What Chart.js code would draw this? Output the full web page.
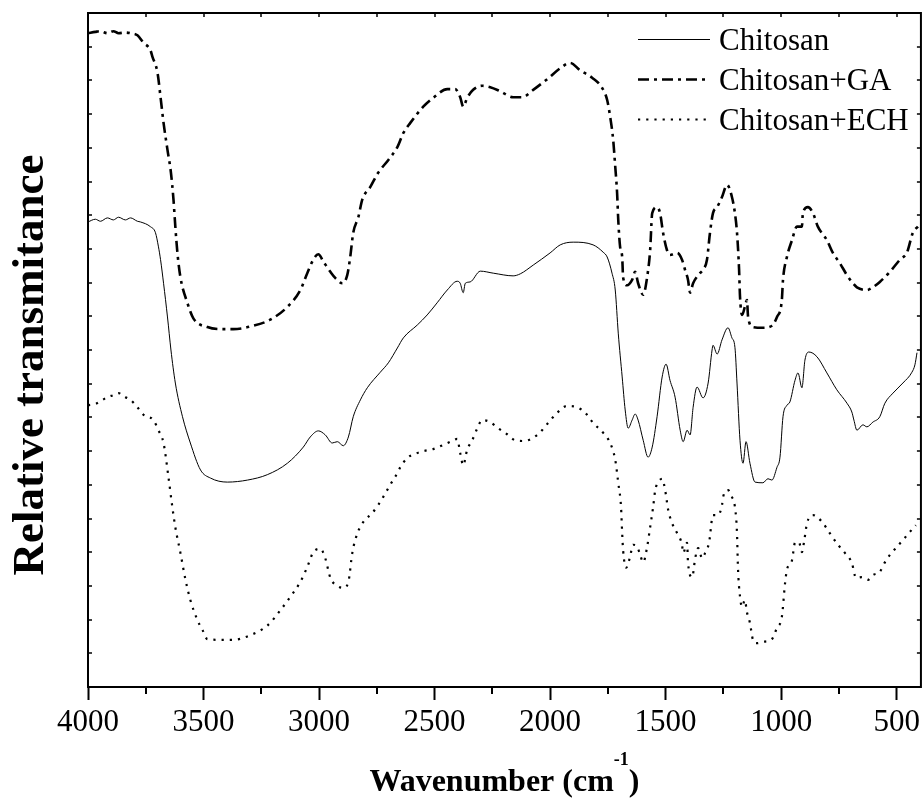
<!DOCTYPE html>
<html>
<head>
<meta charset="utf-8">
<script src="https://cdn.jsdelivr.net/npm/chart.js@4.4.1/dist/chart.umd.min.js"></script>
<style>
  html, body { margin: 0; padding: 0; background: #fff; }
  #wrap { width: 924px; height: 800px; }
</style>
</head>
<body>
<div id="wrap"><canvas id="ftirChart" width="924" height="800"></canvas></div>
<script>
// wavenumber (cm-1) and relative transmittance (arbitrary 0-100)
const chitosanWn = [4000,3968,3946,3916,3890,3868,3838,3816,3786,3773,3730,3708,3695,3686,3673,3656,3641,3622,3591,3557,3513,3470,3397,3310,3224,3137,3068,3038,3003,2973,2943,2921,2895,2873,2852,2821,2791,2735,2700,2661,2635,2575,2532,2489,2445,2402,2389,2376,2367,2346,2302,2246,2160,2129,2073,2000,1956,1900,1814,1770,1753,1732,1718,1705,1688,1675,1662,1645,1632,1619,1597,1576,1558,1537,1515,1498,1481,1459,1437,1424,1407,1394,1381,1364,1338,1316,1299,1295,1277,1256,1230,1213,1200,1191,1178,1165,1152,1135,1113,1079,1057,1040,1018,1005,992,975,962,940,927,910,897,880,845,802,759,715,694,685,672,646,629,603,573,551,516,473,434,421,412];
const chitosanT = [69.0,69.4,69.1,69.6,69.3,69.7,69.3,69.6,69.1,69.0,68.3,67.4,65.3,63.4,59.9,54.9,50.0,45.1,40.1,36.2,32.2,31.0,30.4,30.7,31.5,33.2,35.6,37.1,38.0,37.4,36.2,36.4,35.8,37.1,40.1,42.6,44.4,46.7,48.1,50.3,51.8,53.7,55.2,57.0,58.9,60.2,59.9,58.5,59.9,60.1,61.7,61.4,61.0,61.3,62.6,64.4,65.6,66.0,65.6,64.5,63.8,61.4,58.9,52.5,46.0,41.1,38.4,39.6,40.5,39.6,36.6,34.1,35.6,40.1,46.0,47.9,45.5,43.0,38.1,36.4,38.1,37.4,41.5,44.5,42.9,45.1,50.0,50.7,49.4,51.5,53.3,51.8,50.4,45.1,36.6,33.2,36.4,33.2,30.4,30.3,30.9,30.7,32.6,34.1,40.1,41.8,42.3,45.5,46.6,44.4,48.5,49.7,49.0,46.6,44.1,42.1,40.8,39.6,38.1,38.9,38.6,39.3,40.1,42.1,43.6,45.1,46.7,47.8,49.6];

const gaWn = [4000,3968,3946,3916,3890,3868,3838,3816,3786,3760,3730,3721,3699,3686,3673,3656,3641,3630,3622,3613,3600,3570,3544,3483,3427,3371,3284,3211,3137,3081,3051,3025,3003,2981,2951,2930,2899,2878,2865,2852,2830,2813,2778,2744,2700,2661,2635,2605,2549,2506,2445,2411,2389,2376,2359,2333,2294,2259,2216,2160,2121,2073,2012,1956,1913,1870,1818,1775,1753,1740,1727,1718,1710,1705,1697,1688,1684,1667,1645,1632,1619,1597,1580,1567,1558,1537,1524,1511,1494,1481,1450,1429,1416,1403,1394,1381,1351,1338,1321,1308,1295,1277,1256,1234,1213,1200,1191,1182,1178,1169,1157,1148,1143,1122,1079,1040,1018,997,992,975,953,932,910,906,884,862,841,802,776,746,715,689,672,629,603,573,529,486,455,430,408];
const gaT = [97.0,97.2,97.3,97.0,97.3,97.0,97.1,97.0,96.7,95.6,94.5,93.5,91.1,87.5,83.7,79.7,76.3,72.3,68.3,64.4,60.8,57.0,54.7,53.4,53.1,53.1,53.6,54.5,56.4,58.9,61.4,63.4,64.2,63.1,61.6,60.7,59.9,61.1,63.8,67.4,69.7,72.3,74.2,76.3,78.2,80.1,82.2,83.7,86.1,87.4,88.7,88.7,87.5,86.1,87.4,88.6,89.2,89.0,88.4,87.5,87.5,88.6,90.2,91.8,92.6,91.5,90.4,88.9,87.1,84.6,81.2,77.2,73.3,69.3,65.3,63.8,60.8,59.6,60.4,61.6,59.9,58.2,60.8,64.8,70.3,71.2,70.3,67.4,64.8,64.1,64.4,63.4,61.9,60.4,58.5,59.9,61.4,61.9,63.4,67.4,70.3,71.2,72.7,74.5,72.7,70.3,67.4,61.9,57.9,55.2,56.4,57.4,54.9,53.4,53.3,53.6,54.9,57.4,60.4,63.8,66.3,68.3,68.3,70.3,71.2,70.3,68.3,66.3,64.4,62.9,61.1,59.9,59.3,58.9,59.3,60.1,61.6,63.4,64.5,67.4,68.3];

const echWn = [4000,3968,3946,3916,3890,3868,3838,3816,3786,3760,3717,3695,3673,3652,3635,3622,3600,3578,3557,3526,3505,3483,3427,3371,3297,3224,3167,3124,3081,3051,3025,2994,2973,2951,2921,2895,2873,2856,2834,2808,2770,2744,2722,2692,2670,2648,2618,2584,2549,2506,2463,2424,2402,2389,2376,2359,2337,2315,2294,2259,2225,2186,2151,2116,2077,2043,2008,1969,1926,1883,1848,1814,1770,1740,1718,1705,1693,1688,1684,1671,1654,1641,1623,1610,1597,1580,1567,1554,1545,1532,1515,1502,1489,1472,1450,1429,1424,1407,1403,1385,1372,1359,1342,1329,1312,1295,1273,1256,1251,1230,1213,1200,1191,1187,1178,1169,1157,1148,1135,1122,1105,1079,1040,1018,997,983,975,953,940,923,910,901,888,862,823,789,754,724,694,676,650,624,603,573,551,529,499,473,443,417];
const echT = [41.8,42.0,42.4,43.0,43.3,43.6,43.0,42.6,41.5,40.4,39.6,38.1,36.2,31.2,26.7,23.7,19.9,15.9,12.9,9.9,8.5,7.1,7.0,7.0,7.7,9.1,11.4,13.4,15.6,17.8,20.0,20.5,19.1,16.2,15.0,14.7,15.6,19.9,22.8,24.5,25.8,27.0,28.2,30.0,31.2,32.6,34.0,34.6,35.0,35.3,35.9,36.5,36.8,34.7,32.9,35.2,36.6,38.4,39.6,39.3,38.4,37.5,36.6,36.5,36.9,37.8,39.2,40.7,41.7,41.5,40.7,39.2,37.7,36.2,33.7,30.3,26.7,22.8,20.3,17.7,19.3,21.1,20.8,19.6,18.5,20.8,23.7,26.7,29.2,30.4,30.9,29.2,26.3,24.3,22.8,21.1,19.9,21.4,18.4,16.3,19.1,20.6,19.1,19.9,21.4,25.5,25.5,27.0,28.2,29.2,28.2,26.7,22.8,17.8,13.4,11.9,12.9,11.1,9.5,7.0,6.5,6.7,7.1,8.8,10.4,15.4,17.4,18.8,21.4,21.5,20.0,21.5,24.3,25.5,24.5,22.8,21.1,19.9,18.4,16.2,16.3,15.9,16.6,17.1,18.5,19.6,20.8,21.8,23.0,24.0];

const seriesNames = ["Chitosan", "Chitosan+GA", "Chitosan+ECH"];
// unlabeled y ticks (relative scale)
const yTickValues = [0,5,10,15,20,25,30,35,40,45,50,55,60,65,70,75,80,85,90,95,100];

const serif = "'Liberation Serif', 'Times New Roman', serif";

function toPoints(wn, t) {
  return wn.map((w, i) => ({ x: w, y: t[i] }));
}

const lineStyles = [
  { width: 1, dash: [] },
  { width: 2.6, dash: [11, 5, 3, 5] },
  { width: 2.2, dash: [2.2, 6] }
];

const framePlugin = {
  id: "framePlugin",
  afterDraw(chart) {
    const { ctx, chartArea: a, scales } = chart;
    ctx.save();
    ctx.strokeStyle = "#000";
    ctx.fillStyle = "#000";

    // box
    ctx.lineWidth = 2;
    ctx.strokeRect(a.left, a.top, a.right - a.left, a.bottom - a.top);

    // small inward ticks on left / right / top, minor outward ticks on bottom
    ctx.lineWidth = 1.5;
    ctx.beginPath();
    yTickValues.forEach(v => {
      const y = Math.round(scales.y.getPixelForValue(v));
      ctx.moveTo(a.left, y); ctx.lineTo(a.left + 4, y);
      ctx.moveTo(a.right, y); ctx.lineTo(a.right - 4, y);
    });
    scales.x.ticks.forEach(t => {
      const x = Math.round(scales.x.getPixelForValue(t.value));
      ctx.moveTo(x, a.top); ctx.lineTo(x, a.top + 4);
    });
    ctx.stroke();
    ctx.lineWidth = 2;
    ctx.beginPath();
    scales.x.ticks.forEach(t => {
      if (t.value % 500 !== 0) {
        const x = Math.round(scales.x.getPixelForValue(t.value));
        ctx.moveTo(x, a.bottom); ctx.lineTo(x, a.bottom + 7);
      }
    });
    ctx.stroke();

    // legend
    ctx.font = "31px " + serif;
    ctx.textAlign = "left";
    ctx.textBaseline = "alphabetic";
    seriesNames.forEach((name, i) => {
      const y = 39.5 + i * 40;
      ctx.save();
      ctx.lineWidth = lineStyles[i].width;
      ctx.setLineDash(lineStyles[i].dash);
      ctx.beginPath();
      ctx.moveTo(638, y);
      ctx.lineTo(710, y);
      ctx.stroke();
      ctx.restore();
      ctx.fillText(name, 719, y + 10);
    });

    // x axis title with superscript
    const main = "Wavenumber (cm", sup = "-1", close = ")";
    ctx.font = "bold 32px " + serif;
    const w1 = ctx.measureText(main).width;
    const w3 = ctx.measureText(close).width;
    ctx.font = "bold 18px " + serif;
    const w2 = ctx.measureText(sup).width;
    let x = (a.left + a.right) / 2 - (w1 + w2 + w3) / 2;
    ctx.font = "bold 32px " + serif;
    ctx.fillText(main, x, 791);
    x += w1;
    ctx.font = "bold 18px " + serif;
    ctx.fillText(sup, x, 765);
    x += w2;
    ctx.font = "bold 32px " + serif;
    ctx.fillText(close, x, 791);

    // y axis title
    ctx.translate(43, 365);
    ctx.rotate(-Math.PI / 2);
    ctx.textAlign = "center";
    ctx.font = "bold 45px " + serif;
    ctx.fillText("Relative transmitance", 0, 0);
    ctx.restore();
  }
};

const seriesData = [
  toPoints(chitosanWn, chitosanT),
  toPoints(gaWn, gaT),
  toPoints(echWn, echT)
];

new Chart(document.getElementById("ftirChart"), {
  type: "line",
  data: {
    datasets: seriesNames.map((name, i) => ({
      label: name,
      data: seriesData[i],
      borderColor: "#000",
      borderWidth: lineStyles[i].width,
      borderDash: lineStyles[i].dash,
      pointRadius: 0,
      fill: false,
      cubicInterpolationMode: "monotone"
    }))
  },
  options: {
    responsive: false,
    animation: false,
    events: [],
    layout: { padding: { left: 0, right: 3, top: 13, bottom: 0 } },
    plugins: {
      legend: { display: false },
      tooltip: { enabled: false },
      title: { display: false }
    },
    scales: {
      x: {
        type: "linear",
        reverse: true,
        min: 395,
        max: 4000,
        afterFit(scale) { scale.height = 113; },
        border: { display: false },
        grid: {
          drawOnChartArea: false,
          tickLength: 13,
          tickWidth: 2,
          tickColor: c => (c.tick && c.tick.value % 500 === 0 ? "#000" : "rgba(0,0,0,0)")
        },
        ticks: {
          stepSize: 250,
          includeBounds: false,
          autoSkip: false,
          maxRotation: 0,
          padding: 4,
          color: "#000",
          font: { family: serif, size: 31 },
          callback: v => (v % 500 === 0 ? String(v) : "")
        }
      },
      y: {
        min: 0,
        max: 100,
        afterFit(scale) { scale.width = 88; },
        ticks: { display: false },
        grid: { display: false },
        border: { display: false }
      }
    }
  },
  plugins: [framePlugin]
});
</script>
</body>
</html>
